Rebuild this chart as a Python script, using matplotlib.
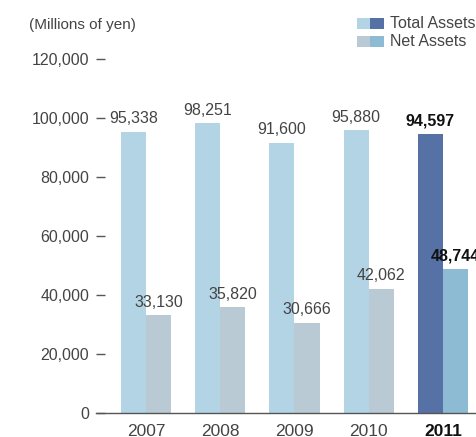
import matplotlib
matplotlib.use("Agg")
import matplotlib.pyplot as plt
from matplotlib.patches import Rectangle
import numpy as np

plt.rcParams['font.family'] = ['Liberation Sans', 'DejaVu Sans']

# Data
years = ['2007', '2008', '2009', '2010', '2011']
total_assets = [95338, 98251, 91600, 95880, 94597]
net_assets = [33130, 35820, 30666, 42062, 48744]
yticks = [0, 20000, 40000, 60000, 80000, 100000, 120000]

# Colours (last year highlighted)
total_light, total_dark = '#b3d4e5', '#5571a5'
net_light, net_dark = '#b9cad4', '#8dbbd3'
total_colors = [total_light] * 4 + [total_dark]
net_colors = [net_light] * 4 + [net_dark]

W, H = 477, 437
fig = plt.figure(figsize=(W / 100, H / 100), dpi=100)
ax = fig.add_axes([96 / W, 1 - 413 / H, (W - 96) / W, (413 - 59) / H])

x = np.arange(len(years))
bw = 0.337
ax.bar(x - bw / 2, total_assets, bw, color=total_colors)
ax.bar(x + bw / 2, net_assets, bw, color=net_colors)

# value labels
for i in range(len(years)):
    last = i == len(years) - 1
    kw = dict(ha='center', va='bottom', fontsize=11.5,
              fontweight='bold' if last else 'normal',
              color='#111111' if last else '#444444')
    ax.annotate(f'{total_assets[i]:,}', (x[i] - bw / 2, total_assets[i]),
                xytext=(0, 4), textcoords='offset points', **kw)
    ax.annotate(f'{net_assets[i]:,}', (x[i] + bw / 2, net_assets[i]),
                xytext=(0, 4), textcoords='offset points', annotation_clip=False, **kw)

ax.set_xlim(-0.673, 4.458)
ax.set_ylim(0, 120000)
ax.set_yticks(yticks)
ax.set_yticklabels([f'{v:,}' for v in yticks], fontsize=11.5, color='#444444')
ax.tick_params(axis='y', direction='in', length=6.5, width=1, color='#555555', pad=5)
ax.set_xticks(x)
ax.set_xticklabels(years, fontsize=12.5, color='#444444')
ax.get_xticklabels()[-1].set_fontweight('bold')
ax.get_xticklabels()[-1].set_color('#111111')
ax.tick_params(axis='x', length=0, pad=8)

for s in ['top', 'right', 'left']:
    ax.spines[s].set_visible(False)
ax.spines['bottom'].set_color('#555555')
ax.spines['bottom'].set_linewidth(1)

fig.text(29 / W, 1 - 25 / H, '(Millions of yen)', fontsize=11, color='#444444', va='center')

# legend: two swatches per entry
rows = [('Total Assets', total_light, total_dark, 18), ('Net Assets', net_light, net_dark, 36)]
for label, c1, c2, top in rows:
    fig.add_artist(Rectangle((357 / W, 1 - (top + 11) / H), 13 / W, 11 / H,
                             transform=fig.transFigure, color=c1, lw=0))
    fig.add_artist(Rectangle((370 / W, 1 - (top + 11) / H), 14 / W, 11 / H,
                             transform=fig.transFigure, color=c2, lw=0))
    fig.text(390 / W, 1 - (top + 5.5) / H, label, fontsize=11.5, color='#444444', va='center')

fig.savefig('out.png', dpi=100)
